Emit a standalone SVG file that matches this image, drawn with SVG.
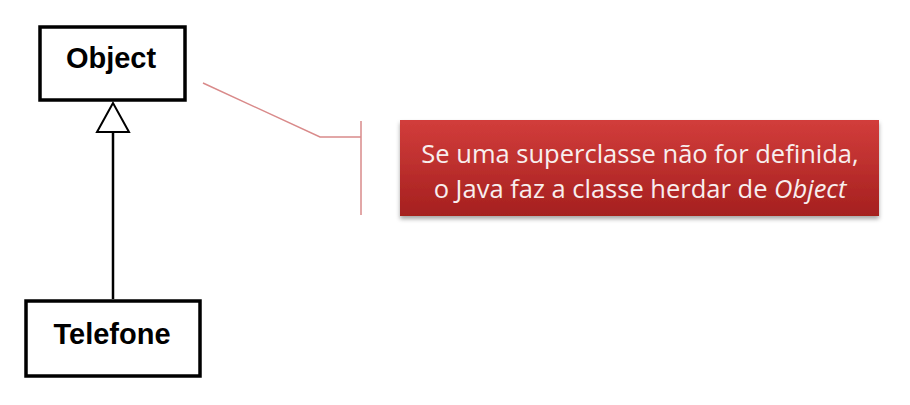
<svg xmlns="http://www.w3.org/2000/svg" width="910" height="405" viewBox="0 0 910 405">
<style>
.cls{fill:#fff;stroke:#000;stroke-width:3.5}
.clt{font-family:"Liberation Sans",Arial,sans-serif;font-weight:bold;font-size:29px;fill:#000;text-anchor:middle}
.note{font-family:"Open Sans","Noto Sans",sans-serif;font-size:25.5px;fill:#f8eeee;text-anchor:middle}
.call{fill:none;stroke:#d98a8a;stroke-width:1.5}
</style>
<defs>
<linearGradient id="rg" x1="0" y1="0" x2="0" y2="1">
<stop offset="0" stop-color="#d23d3b"/>
<stop offset="1" stop-color="#a5201f"/>
</linearGradient>
<filter id="sh" x="-5%" y="-10%" width="110%" height="130%">
<feDropShadow dx="0" dy="3" stdDeviation="2" flood-color="#000" flood-opacity="0.35"/>
</filter>
</defs>
<g id="connectors">
<line x1="113" y1="132" x2="113" y2="299" stroke="#000" stroke-width="2.5"/>
<polygon points="113,103 97,132 129,132" fill="#fff" stroke="#000" stroke-width="2"/>
<polyline class="call" points="203,83 320,137 361,137"/>
<line class="call" x1="361" y1="121" x2="361" y2="215"/>
</g>
<g id="object">
<rect class="cls" x="40" y="27" width="145" height="73"/>
<text class="clt" x="111" y="68">Object</text>
</g>
<g id="telefone">
<rect class="cls" x="26" y="301" width="174" height="75"/>
<text class="clt" x="112" y="344">Telefone</text>
</g>
<g id="note">
<rect x="400" y="120" width="479" height="96" fill="url(#rg)" filter="url(#sh)"/>
<text class="note" x="640" y="163">Se uma superclasse não for definida,</text>
<text class="note" x="640" y="198">o Java faz a classe herdar de <tspan font-style="italic">Object</tspan></text>
</g>
</svg>
